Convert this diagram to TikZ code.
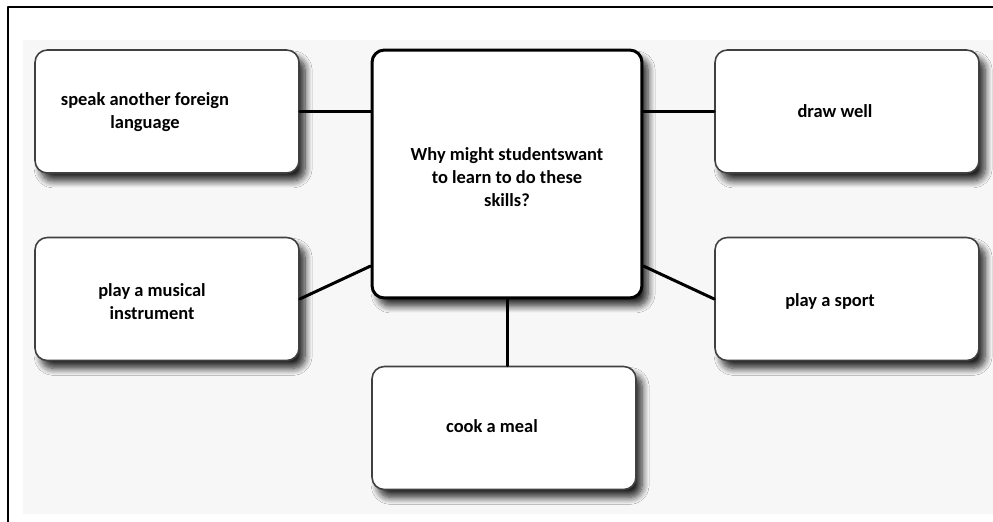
\documentclass[tikz,border=0pt]{standalone}
\usepackage{fontspec}
\setmainfont{Carlito}
\usetikzlibrary{shadows.blur}

\begin{document}
\begin{tikzpicture}[x=0.02cm, y=-0.02cm, line join=round, line cap=round,
    box/.style={draw=black!75, line width=0.9pt, fill=white, rounded corners=7pt,
      minimum width=5.28cm, minimum height=2.46cm,
      blur shadow={shadow xshift=3.5pt, shadow yshift=-4.5pt, shadow blur radius=4pt, shadow blur steps=10, shadow opacity=85}},
    txt/.style={font=\bfseries\fontsize{10.5}{13}\selectfont, align=center, inner sep=0pt},
    link/.style={line width=1.7pt}]
    \useasboundingbox (0,0) rectangle (993,521);
    \fill[white] (-2,-2) rectangle (996,524);

    % 背景与外框
    \fill[black!3] (23,40) rectangle (996,514);
    \draw[line width=0.9pt, line cap=butt] (8,524) -- (8,7) -- (996,7);

    % 中心框
    \node[box, draw=black, line width=1.7pt, minimum width=5.4cm, minimum height=4.96cm] (centre) at (507,174) {};
    \node[txt] (centre-t) at (507,177) {Why might studentswant\\to learn to do these\\skills?};

    % 四周的框
    \node[box] (speak) at (167,111.5) {};
    \node[box] (drawwell) at (847,111.5) {};
    \node[box] (music) at (167,299) {};
    \node[box] (sport) at (847,299) {};
    \node[box] (cook) at (504,428) {};

    \node[txt] (speak-t) at (145,112) {speak another foreign\\language};
    \node[txt] (drawwell-t) at (835,111) {draw well};
    \node[txt] (music-t) at (152,302) {play a musical\\instrument};
    \node[txt] (sport-t) at (830,301) {play a sport};
    \node[txt] (cook-t) at (492,426) {cook a meal};

    % 连线
    \draw[link] (speak.east) -- (speak.east -| centre.west);
    \draw[link] (drawwell.west) -- (drawwell.west -| centre.east);
    \draw[link] (music.east) -- (centre.214);
    \draw[link] (sport.west) -- (centre.326);
    \draw[link] (centre.south) -- (centre.south |- cook.north);
\end{tikzpicture}
\end{document}
